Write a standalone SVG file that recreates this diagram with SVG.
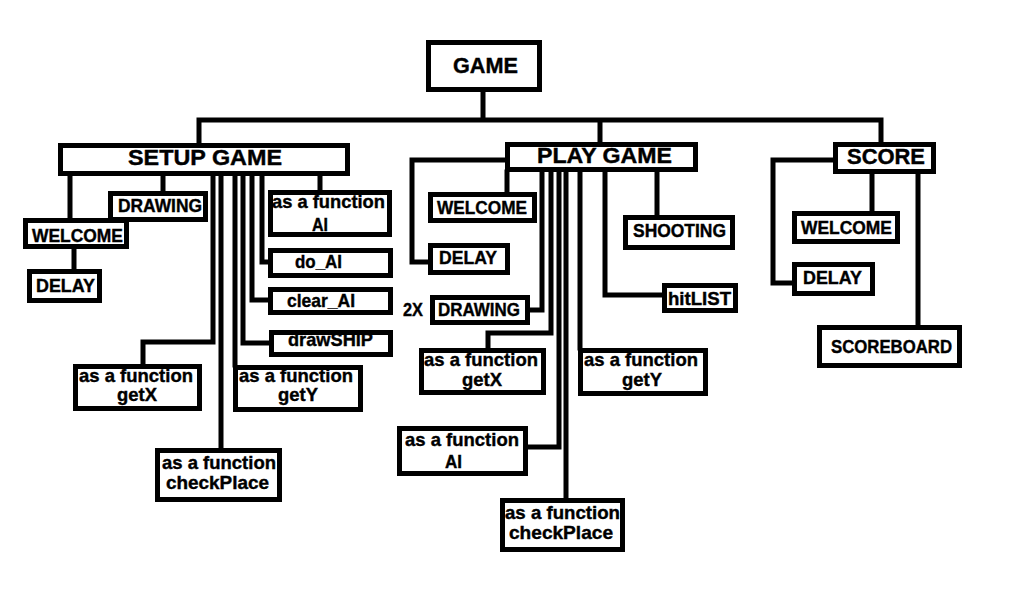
<svg xmlns="http://www.w3.org/2000/svg" width="1024" height="604" viewBox="0 0 1024 604">
<style>
rect{fill:#fff;stroke:#000;stroke-width:5}
.c path{fill:none;stroke:#000;stroke-width:5;stroke-linejoin:miter;stroke-linecap:square}
text{font-family:"Liberation Sans",Arial,sans-serif;font-weight:bold;font-size:19px;fill:#000;stroke:#000;stroke-width:0.4}
.h{font-size:22px}
</style>
<rect x="0" y="0" width="1024" height="604" style="stroke:none"/>
<g class="c" id="connectors">
<path d="M483 92V120M199 143V120H881V142M600 120V142"/>
<path d="M70 176V218M163 176V191M74 249V269M320 176V190M262 176V262H268M252 176V300H268M243 176V343H269M235 176V365M221 176V448M213 176V342H143V364"/>
<path d="M507 172V192M505 160H412V262H428M542 172V310H530M551 172V333H488V348M559 172V447H528M566 172V498M580 172V348M605 172V295H662M657 172V215"/>
<path d="M872 174V211M833 160H773V283H792M918 174V325"/>
</g>
<g id="game"><rect x="428.5" y="42.5" width="111" height="47"/><text class="h" x="453" y="73" textLength="65" lengthAdjust="spacingAndGlyphs">GAME</text></g>
<g id="setup"><rect x="60.5" y="145.5" width="287" height="28"/><text class="h" x="128" y="165" textLength="154" lengthAdjust="spacingAndGlyphs">SETUP GAME</text></g>
<g id="s_welcome"><rect x="25.5" y="220.5" width="101" height="26"/><text x="32" y="242" textLength="91" lengthAdjust="spacingAndGlyphs">WELCOME</text></g>
<g id="s_drawing"><rect x="110.5" y="193.5" width="95" height="26"/><text x="118" y="212" textLength="84" lengthAdjust="spacingAndGlyphs">DRAWING</text></g>
<g id="s_delay"><rect x="29.5" y="271.5" width="70" height="29"/><text x="36" y="292" textLength="59" lengthAdjust="spacingAndGlyphs">DELAY</text></g>
<g id="s_ai"><rect x="270.5" y="192.5" width="119" height="42"/><text x="272" y="208" textLength="113" lengthAdjust="spacingAndGlyphs">as a function</text><text x="312" y="231" textLength="16" lengthAdjust="spacingAndGlyphs">AI</text></g>
<g id="s_doai"><rect x="270.5" y="250.5" width="120" height="25"/><text x="295" y="268" textLength="47" lengthAdjust="spacingAndGlyphs">do_AI</text></g>
<g id="s_clearai"><rect x="270.5" y="289.5" width="120" height="23"/><text x="287" y="307" textLength="68" lengthAdjust="spacingAndGlyphs">clear_AI</text></g>
<g id="s_drawship"><rect x="271.5" y="332.5" width="119" height="22"/><text x="288" y="346" textLength="85" lengthAdjust="spacingAndGlyphs">drawSHIP</text></g>
<g id="s_getx"><rect x="75.5" y="366.5" width="124" height="42"/><text x="79" y="382" textLength="114" lengthAdjust="spacingAndGlyphs">as a function</text><text x="117" y="401" textLength="40" lengthAdjust="spacingAndGlyphs">getX</text></g>
<g id="s_gety"><rect x="235.5" y="367.5" width="125" height="42"/><text x="239" y="382" textLength="114" lengthAdjust="spacingAndGlyphs">as a function</text><text x="278" y="401" textLength="40" lengthAdjust="spacingAndGlyphs">getY</text></g>
<g id="s_check"><rect x="157.5" y="450.5" width="122" height="49"/><text x="162" y="469" textLength="114" lengthAdjust="spacingAndGlyphs">as a function</text><text x="166" y="489" textLength="103" lengthAdjust="spacingAndGlyphs">checkPlace</text></g>
<g id="play"><rect x="507.5" y="144.5" width="188" height="25"/><text class="h" x="537" y="163" textLength="135" lengthAdjust="spacingAndGlyphs">PLAY GAME</text></g>
<g id="p_welcome"><rect x="430.5" y="194.5" width="104" height="26"/><text x="437" y="214" textLength="90" lengthAdjust="spacingAndGlyphs">WELCOME</text></g>
<g id="p_delay"><rect x="430.5" y="245.5" width="77" height="27"/><text x="439" y="264" textLength="58" lengthAdjust="spacingAndGlyphs">DELAY</text></g>
<g id="p_drawing"><text x="403" y="316" textLength="20" lengthAdjust="spacingAndGlyphs">2X</text><rect x="432.5" y="297.5" width="95" height="25"/><text x="438" y="316" textLength="82" lengthAdjust="spacingAndGlyphs">DRAWING</text></g>
<g id="p_shooting"><rect x="625.5" y="217.5" width="107" height="30"/><text x="633" y="237" textLength="93" lengthAdjust="spacingAndGlyphs">SHOOTING</text></g>
<g id="p_hitlist"><rect x="664.5" y="285.5" width="71" height="25"/><text x="668" y="305" textLength="63" lengthAdjust="spacingAndGlyphs">hitLIST</text></g>
<g id="p_getx"><rect x="421.5" y="350.5" width="122" height="42"/><text x="424" y="366" textLength="114" lengthAdjust="spacingAndGlyphs">as a function</text><text x="462" y="386" textLength="40" lengthAdjust="spacingAndGlyphs">getX</text></g>
<g id="p_gety"><rect x="580.5" y="350.5" width="125" height="43"/><text x="584" y="366" textLength="114" lengthAdjust="spacingAndGlyphs">as a function</text><text x="622" y="386" textLength="40" lengthAdjust="spacingAndGlyphs">getY</text></g>
<g id="p_ai"><rect x="399.5" y="428.5" width="126" height="45"/><text x="405" y="446" textLength="114" lengthAdjust="spacingAndGlyphs">as a function</text><text x="445" y="468" textLength="17" lengthAdjust="spacingAndGlyphs">AI</text></g>
<g id="p_check"><rect x="502.5" y="500.5" width="120" height="49"/><text x="505" y="519" textLength="115" lengthAdjust="spacingAndGlyphs">as a function</text><text x="509" y="539" textLength="104" lengthAdjust="spacingAndGlyphs">checkPlace</text></g>
<g id="score"><rect x="835.5" y="144.5" width="98" height="27"/><text class="h" x="847" y="164" textLength="78" lengthAdjust="spacingAndGlyphs">SCORE</text></g>
<g id="sc_welcome"><rect x="794.5" y="213.5" width="103" height="28"/><text x="801" y="234" textLength="91" lengthAdjust="spacingAndGlyphs">WELCOME</text></g>
<g id="sc_delay"><rect x="794.5" y="264.5" width="78" height="29"/><text x="803" y="284" textLength="59" lengthAdjust="spacingAndGlyphs">DELAY</text></g>
<g id="scoreboard"><rect x="819.5" y="327.5" width="140" height="38"/><text x="831" y="353" textLength="121" lengthAdjust="spacingAndGlyphs">SCOREBOARD</text></g>
</svg>
